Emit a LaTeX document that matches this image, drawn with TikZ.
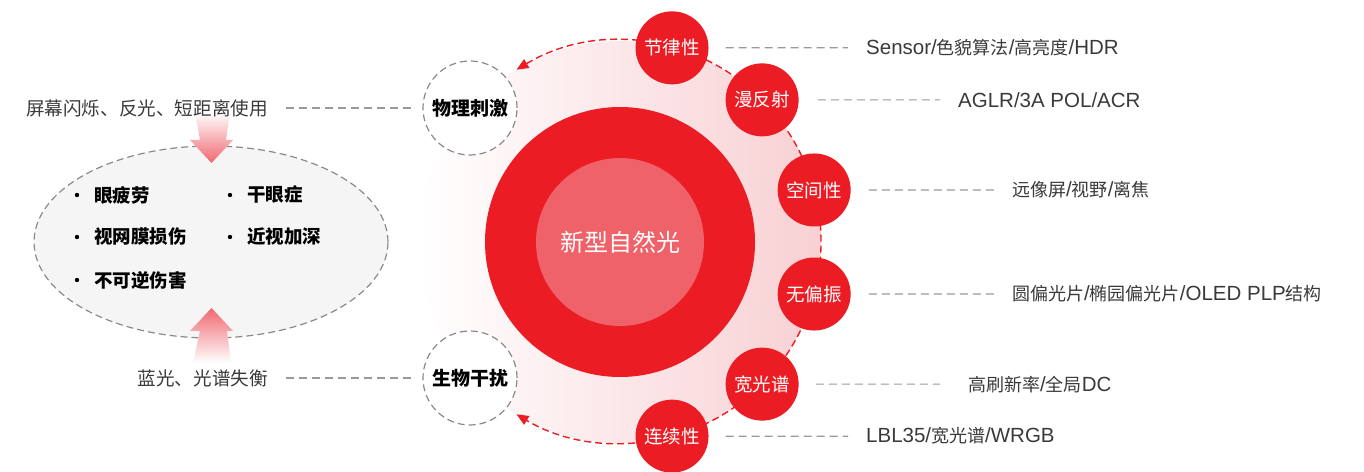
\documentclass[tikz,border=0pt]{standalone}
\usepackage{fontspec}
\setmainfont{Noto Sans CJK SC}
\newfontfamily\latf{Liberation Sans}
\newcommand\La[1]{{\latf\fontsize{20.5}{22}\selectfont #1}}
\usetikzlibrary{arrows.meta,calc}
\definecolor{mainred}{HTML}{EC1C24}
\definecolor{innerc}{HTML}{F0626A}
\definecolor{pinkc}{HTML}{F8D0D3}
\definecolor{arrowc}{HTML}{F06870}
\definecolor{linegray}{HTML}{9A9A9A}
\definecolor{circgray}{HTML}{8A8A8A}
\definecolor{ellfill}{HTML}{F5F5F5}
\definecolor{txtgray}{HTML}{3A3A3A}
\tikzset{
  redball/.style={circle,fill=mainred,minimum size=73pt,inner sep=0pt,text=white,font=\fontsize{18.5}{20}\selectfont},
  whitec/.style={circle,fill=white,draw=circgray,line width=1.2pt,dash pattern=on 7pt off 4pt,minimum size=94pt,inner sep=0pt,text=black,font=\bfseries\fontsize{19}{21}\selectfont},
  lab/.style={anchor=west,inner sep=0pt,text=txtgray,font=\fontsize{18}{20}\selectfont},
  leftlab/.style={anchor=east,inner sep=0pt,text=txtgray,font=\fontsize{18.6}{21}\selectfont},
  grayline/.style={draw=linegray,line width=1.2pt,dash pattern=on 8pt off 5pt},
  bul/.style={anchor=west,inner sep=0pt,text=black,font=\bfseries\fontsize{18.5}{20}\selectfont},
  reddash/.style={draw=mainred,line width=1.4pt,dash pattern=on 7pt off 4pt}
}
\begin{document}
\begin{tikzpicture}[x=1pt,y=1pt]
\useasboundingbox (0,0) rectangle (1364,471);
\fill[white] (0,0) rectangle (1364,471);
\coordinate (C) at (620,229);
% pale gradient disc
\shade[left color=white,right color=pinkc] (C) circle (201);
% dashed red arc with arrows
\draw[reddash,{Triangle[length=12pt,width=10pt]}-{Triangle[length=12pt,width=10pt]}]
  ($(C)+(121:201)$) arc[start angle=121,end angle=-121,radius=201];
% core
\node[circle,fill=mainred,minimum size=270pt,inner sep=0pt] (core) at (C) {};
\node[circle,fill=innerc,minimum size=168pt,inner sep=0pt,text=white,font=\fontsize{24}{26}\selectfont] (centre) at (C) {新型自然光};
% red balls
\node[redball] (n1) at ($(C)+(75:201)$) {节律性};
\node[redball] (n2) at ($(C)+(45:201)$) {漫反射};
\node[redball] (n3) at ($(C)+(15:201)$) {空间性};
\node[redball] (n4) at ($(C)+(-15:201)$) {无偏振};
\node[redball] (n5) at ($(C)+(-45:201)$) {宽光谱};
\node[redball] (n6) at ($(C)+(-75:201)$) {连续性};
% right labels
\node[lab] (l1) at (866,423.15) {\La{Sensor/}色貌算法\La{/}高亮度\La{/HDR}};
\node[lab] (l2) at (958,371.13) {\La{AGLR/3A POL/ACR}};
\node[lab] (l3) at (1012,281.02) {远像屏\La{/}视野\La{/}离焦};
\node[lab] (l4) at (1012,176.98) {圆偏光片\La{/}椭园偏光片\La{/OLED PLP}结构};
\node[lab] (l5) at (968,86.87) {高刷新率\La{/}全局\La{DC}};
\node[lab] (l6) at (866,34.85) {\La{LBL35/}宽光谱\La{/WRGB}};
\draw[grayline,shorten <=17pt,shorten >=18pt] (n1.east) -- (l1.west);
\draw[grayline,shorten <=19pt,shorten >=18pt] (n2.east) -- (l2.west);
\draw[grayline,shorten <=18pt,shorten >=17pt] (n3.east) -- (l3.west);
\draw[grayline,shorten <=18pt,shorten >=17pt] (n4.east) -- (l4.west);
\draw[grayline,shorten <=17pt,shorten >=28pt] (n5.east) -- (l5.west);
\draw[grayline,shorten <=17pt,shorten >=18pt] (n6.east) -- (l6.west);
% ellipse
\draw[fill=ellfill,draw=circgray,line width=1.2pt,dash pattern=on 7pt off 4pt] (211,229) ellipse [x radius=177,y radius=96];
% gradient arrows
\shade[top color=white,bottom color=arrowc] (195,359) -- (230,359) -- (226,331) -- (233,331) -- (211.5,308) -- (190,331) -- (200,331) -- cycle;
\shade[top color=arrowc,bottom color=white] (193,108) -- (231,108) -- (227,140) -- (233,140) -- (211.5,163) -- (190,140) -- (200,140) -- cycle;
% white circles and left labels
\node[whitec] (w1) at (470,363) {物理刺激};
\node[whitec] (w2) at (470,93) {生物干扰};
\node[leftlab] (s1) at (268,363) {屏幕闪烁、反光、短距离使用};
\node[leftlab] (s2) at (268,93) {蓝光、光谱失衡};
\draw[grayline,shorten <=18pt,shorten >=8pt] (s1.east) -- (w1.west);
\draw[grayline,shorten <=18pt,shorten >=8pt] (s2.east) -- (w2.west);
% bullets
\foreach \y/\t [count=\i] in {276/眼疲劳,234/视网膜损伤,191/不可逆伤害}{
  \fill (77,\y) circle (2.2);
  \node[bul] (ba\i) at (94,\y) {\t};
}
\foreach \y/\t [count=\i] in {276/干眼症,234/近视加深}{
  \fill (230,\y) circle (2.2);
  \node[bul] (bb\i) at (247,\y) {\t};
}
\end{tikzpicture}
\end{document}
